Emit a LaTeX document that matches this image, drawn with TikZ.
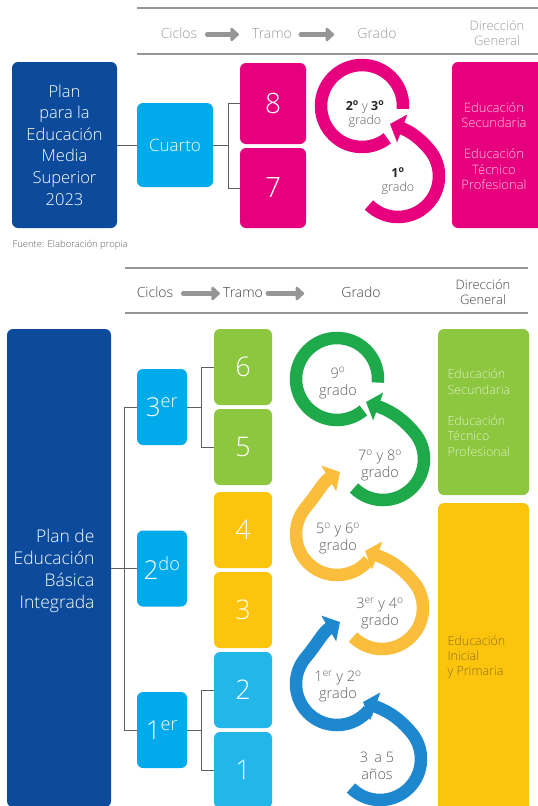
\documentclass[tikz,border=0pt]{standalone}
\usepackage{fontspec}
\setmainfont{Open Sans}[UprightFont={* Light},BoldFont={* Bold}]
\usepackage{xcolor}
\usetikzlibrary{arrows.meta}
\definecolor{planblue}{RGB}{12,74,155}
\definecolor{cycblue}{RGB}{0,170,235}
\definecolor{tramoblue}{RGB}{35,183,233}
\definecolor{ringblue}{RGB}{30,136,207}
\definecolor{magentaA}{RGB}{230,0,126}
\definecolor{pinktext}{RGB}{250,205,228}
\definecolor{boxgreen}{RGB}{141,198,63}
\definecolor{greentext}{RGB}{222,240,200}
\definecolor{ringgreen}{RGB}{30,170,75}
\definecolor{boxyellow}{RGB}{253,196,14}
\definecolor{yellowtext}{RGB}{140,112,20}
\definecolor{ringyellow}{RGB}{250,190,60}
\definecolor{linegray}{RGB}{150,150,150}
\definecolor{conngray}{RGB}{95,95,95}
\definecolor{hdrlight}{RGB}{155,155,155}
\definecolor{hdrdark}{RGB}{70,70,70}
\definecolor{labgray}{RGB}{95,95,95}
\newcommand{\fsz}[2]{\fontsize{#1}{#2}\selectfont}

\begin{document}
\begin{tikzpicture}[x=1pt,y=1pt,
    box/.style={rounded corners=6pt,inner sep=0pt,text=white,align=center},
    conn/.style={draw=conngray,line width=0.9pt},
    rule/.style={draw=linegray,line width=1.1pt},
    hdr/.style={inner sep=0pt,text height=10.5pt,text depth=3pt,font=\fsz{14}{14}},
    hdrtwo/.style={inner sep=0pt,align=center,font=\fsz{13}{14.5}},
    harrow/.style={draw=linegray,line width=5pt,line cap=round,-{Triangle[length=9pt,width=16pt,round]}},
    ring/.style={line width=12.5pt},
    ringarrow/.style={line width=12.5pt,-{Triangle[length=13pt,width=29pt]}},
    lab/.style={align=center,text=labgray,font=\fsz{14.5}{17}}]
  \useasboundingbox (0,0) rectangle (538,-806);
  \fill[white] (0,0) rectangle (538,-806);

  % Media Superior
  \draw[rule] (137,-8) -- (538,-8);
  \draw[rule] (137,-54) -- (538,-54);
  \node[hdr,text=hdrlight] (H1) at (179,-34.5) {Ciclos};
  \node[hdr,text=hdrlight] (H2) at (272,-34.5) {Tramo};
  \node[hdr,text=hdrlight] (H3) at (377,-34.5) {Grado};
  \node[hdrtwo,text=hdrlight] (H4) at (497,-33) {Dirección\\General};
  \draw[harrow,shorten <=10pt,shorten >=13pt] (H1) -- (H2);
  \draw[harrow,shorten <=9pt,shorten >=23pt] (H2) -- (H3);

  \node[box,fill=planblue,minimum width=105pt,minimum height=166pt,font=\fsz{16.5}{21.6}] (P1) at (64.5,-145) {Plan\\para la\\Educación\\Media\\Superior\\2023};
  \node[box,fill=cycblue,minimum width=76pt,minimum height=84pt,font=\fsz{17}{20}] (Q) at (175,-145) {Cuarto};
  \node[box,fill=magentaA,minimum width=66pt,minimum height=81pt,font=\fsz{28}{30}] (T8) at (273,-103.5) {8};
  \node[box,fill=magentaA,minimum width=66pt,minimum height=80pt,font=\fsz{28}{30}] (T7) at (273,-188) {7};
  \node[box,fill=magentaA,minimum width=98pt,minimum height=166pt] (D1) at (501,-145) {};
  \node[align=center,text=pinktext,font=\fsz{13}{15.5}] (D1t) at (494,-146) {Educación\\Secundaria\\[15.5pt]Educación\\Técnico\\Profesional};
  \draw[conn] (P1) -- (Q);
  \draw[conn] (T8.west) -- ++(-11pt,0) coordinate (B0) |- (T7.west);
  \draw[conn] (Q.east) -- (B0 |- Q.east);

  \coordinate (O1) at (362,-106);
  \coordinate (O2) at (398,-176);
  \draw[ring,magentaA] ([shift={(-4:41)}]O1) arc[start angle=-4,end angle=308,radius=41];
  \draw[ringarrow,magentaA] ([shift={(-135:41)}]O2) arc[start angle=-135,end angle=40,radius=41]
    to[out=130,in=-20] ([shift={(-8,52)}]O2);
  \node[lab,font=\fsz{12.5}{14}] (G1) at (365,-114) {\textbf{\color{black!85}2\textsuperscript{o}} y \textbf{\color{black!85}3\textsuperscript{o}}\\grado};
  \node[lab,font=\fsz{12.5}{14}] (G2) at (398,-181) {\textbf{\color{black!85}1\textsuperscript{o}}\\grado};

  \node[anchor=west,text=labgray,font=\fsz{9.5}{10}] (F) at (9,-245) {Fuente: Elaboración propia};

  % Basica Integrada
  \draw[rule] (125,-268) -- (528,-268);
  \draw[rule] (125,-313) -- (528,-313);
  \node[hdr,text=hdrdark] (H5) at (155,-293.5) {Ciclos};
  \node[hdr,text=hdrdark] (H6) at (243,-293.5) {Tramo};
  \node[hdr,text=hdrdark] (H7) at (361,-293.5) {Grado};
  \node[hdrtwo,text=hdrdark] (H8) at (483,-292) {Dirección\\General};
  \draw[harrow,shorten <=10pt,shorten >=3pt] (H5) -- (H6);
  \draw[harrow,shorten <=5pt,shorten >=37pt] (H6) -- (H7);

  \node[box,fill=planblue,minimum width=104pt,minimum height=478pt] (P2) at (59,-568) {};
  \node[anchor=east,align=right,text=white,font=\fsz{17.5}{22}] (P2t) at (98,-571) {Plan de\\Educación\\Básica\\Integrada};
  \node[box,fill=cycblue,minimum width=50pt,minimum height=76pt,font=\fsz{26}{28}] (C3) at (162,-407) {3\textsuperscript{er}};
  \node[box,fill=cycblue,minimum width=50pt,minimum height=76pt,font=\fsz{26}{28}] (C2) at (162,-568.5) {2\textsuperscript{do}};
  \node[box,fill=cycblue,minimum width=50pt,minimum height=76pt,font=\fsz{26}{28}] (C1) at (162,-730) {1\textsuperscript{er}};
  \node[box,fill=boxgreen,minimum width=58pt,minimum height=76pt,font=\fsz{27}{30}] (T6) at (243,-367) {6};
  \node[box,fill=boxgreen,minimum width=58pt,minimum height=76pt,font=\fsz{27}{30}] (T5) at (243,-447) {5};
  \node[box,fill=boxyellow,minimum width=58pt,minimum height=76pt,font=\fsz{27}{30}] (T4) at (243,-530) {4};
  \node[box,fill=boxyellow,minimum width=58pt,minimum height=76pt,font=\fsz{27}{30}] (T3) at (243,-610) {3};
  \node[box,fill=tramoblue,minimum width=58pt,minimum height=76pt,font=\fsz{27}{30}] (T2) at (243,-690) {2};
  \node[box,fill=tramoblue,minimum width=58pt,minimum height=76pt,font=\fsz{27}{30}] (T1) at (243,-770) {1};
  \draw[conn] (C3.west) -- ++(-12pt,0) coordinate (S1) |- (C1.west);
  \draw[conn] (P2.east |- C2) -- (C2.west);
  \draw[conn] (T6.west) -- ++(-12pt,0) coordinate (B3) |- (T5.west);
  \draw[conn] (C3.east) -- (B3 |- C3.east);
  \draw[conn] (T2.west) -- ++(-12pt,0) coordinate (B1) |- (T1.west);
  \draw[conn] (C1.east) -- (B1 |- C1.east);

  \node[box,fill=boxgreen,minimum width=91pt,minimum height=166pt] (D2) at (483.5,-412) {};
  \node[anchor=west,align=left,text=greentext,font=\fsz{12.5}{15.5}] (D2t) at (444,-413) {Educación\\Secundaria\\[15.5pt]Educación\\Técnico\\Profesional};
  \node[box,fill=boxyellow,minimum width=91pt,minimum height=312pt] (D3) at (483.5,-659) {};
  \node[anchor=west,align=left,text=yellowtext,font=\fsz{12.5}{15}] (D3t) at (444,-657) {Educación\\Inicial\\y Primaria};

  \coordinate (O9) at (337,-379);
  \coordinate (O78) at (383,-459);
  \coordinate (O56) at (337,-534);
  \coordinate (O34) at (382,-608);
  \coordinate (O12) at (337,-684);
  \coordinate (O35) at (380,-759);
  \draw[ringarrow,ringblue] ([shift={(-135:41)}]O35) arc[start angle=-135,end angle=40,radius=41]
    to[out=130,in=-20] ([shift={(-17,57)}]O35);
  \draw[ringarrow,ringblue] ([shift={(-40:41)}]O12) arc[start angle=-40,end angle=-220,radius=41]
    to[out=50,in=210] ([shift={(3,62)}]O12);
  \draw[ringarrow,ringyellow] ([shift={(-135:41)}]O34) arc[start angle=-135,end angle=40,radius=41]
    to[out=130,in=-20] ([shift={(-17,57)}]O34);
  \draw[ringarrow,ringyellow] ([shift={(-40:41)}]O56) arc[start angle=-40,end angle=-220,radius=41]
    to[out=50,in=210] ([shift={(3,62)}]O56);
  \draw[ringarrow,ringgreen] ([shift={(-135:41)}]O78) arc[start angle=-135,end angle=40,radius=41]
    to[out=130,in=-20] ([shift={(-17,57)}]O78);
  \draw[ring,ringgreen] ([shift={(-5:41)}]O9) arc[start angle=-5,end angle=310,radius=41];
  \node[lab] (L9) at (338,-383) {9\textsuperscript{o}\\grado};
  \node[lab] (L78) at (380,-465.5) {7\textsuperscript{o} y 8\textsuperscript{o}\\grado};
  \node[lab] (L56) at (338,-538.5) {5\textsuperscript{o} y 6\textsuperscript{o}\\grado};
  \node[lab] (L34) at (380,-613.5) {3\textsuperscript{er} y 4\textsuperscript{o}\\grado};
  \node[lab] (L12) at (338,-686.5) {1\textsuperscript{er} y 2\textsuperscript{o}\\grado};
  \node[lab] (L35) at (377,-765.5) {3\, a 5\\años};
\end{tikzpicture}
\end{document}
